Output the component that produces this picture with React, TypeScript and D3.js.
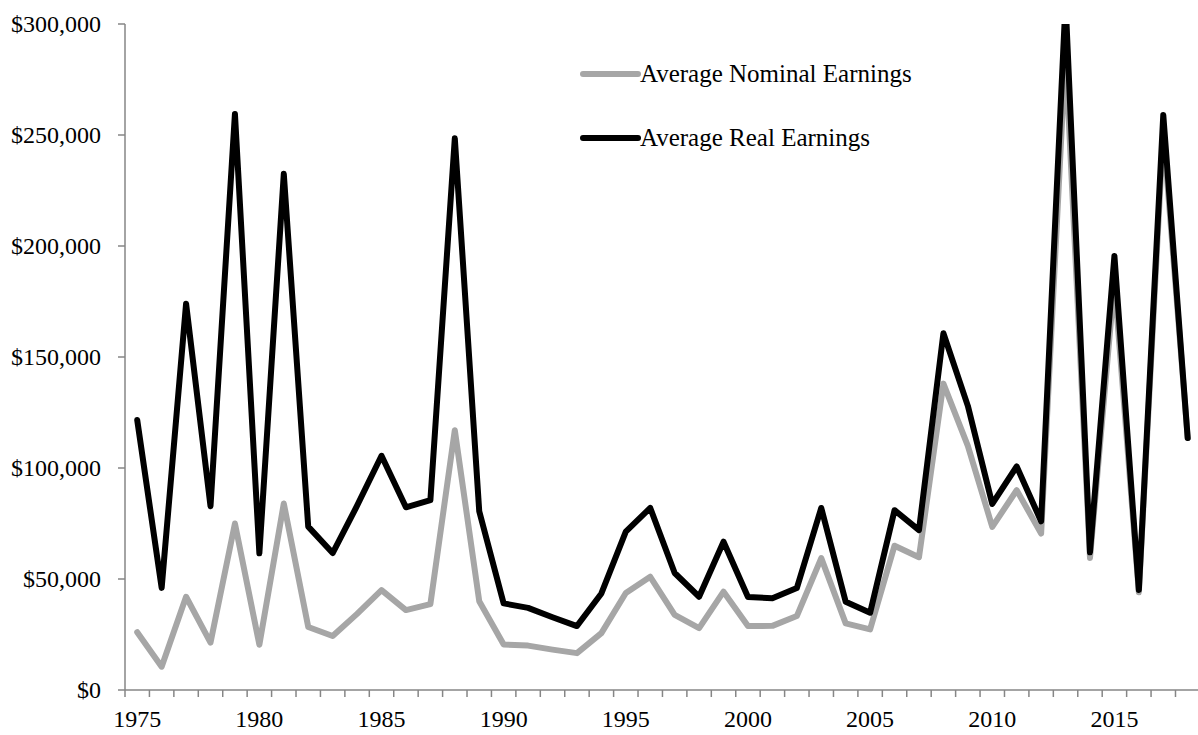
import { useMemo } from "react";
import * as d3 from "d3";

const years = d3.range(1975, 2019);

// average real earnings (2018 dollars)
const realEarnings = [
  121600, 46000, 174000, 82800, 259500, 61600, 232500, 73600, 61700, 83000,
  105500, 82300, 85500, 248500, 80500, 39000, 37000, 32800, 28800, 43500,
  71300, 82000, 52700, 42000, 66800, 41900, 41300, 45900, 82000, 39800,
  34800, 81000, 72000, 160700, 128000, 83800, 100700, 76000, 310000, 62000,
  195500, 45000, 259000, 113500,
];

// average nominal earnings
const nominalEarnings = [
  26000, 10500, 42000, 21300, 75000, 20400, 84000, 28400, 24300, 34300,
  45000, 36000, 38700, 117000, 40000, 20500, 20000, 18200, 16600, 25600,
  43700, 51000, 33800, 27900, 44300, 28800, 28900, 33300, 59400, 30000,
  27300, 65000, 59800, 138000, 110000, 73500, 90000, 70500, 287000, 59500,
  184000, 44000, 252000, 113500,
];

const yTicks = [0, 50000, 100000, 150000, 200000, 250000, 300000];
const yearLabels = [1975, 1980, 1985, 1990, 1995, 2000, 2005, 2010, 2015];

const series = [
  { name: "Average Nominal Earnings", values: nominalEarnings, color: "#a6a6a6" },
  { name: "Average Real Earnings", values: realEarnings, color: "#000000" },
];

const W = 1198;
const H = 735;
const FONT = "'Liberation Serif', 'Times New Roman', serif";

export default function App() {
  const left = 125;
  const top = 24;
  const bottom = 690;
  const band = 24.43;

  const x = useMemo(
    () => d3.scaleBand<number>().domain(years).range([left, left + band * years.length]),
    []
  );
  const y = useMemo(() => d3.scaleLinear().domain([0, 300000]).range([bottom, top]), []);
  const fmt = d3.format("$,.0f");

  const line = d3
    .line<number>()
    .x((_, i) => (x(years[i]) as number) + x.bandwidth() / 2)
    .y((d) => y(d));

  return (
    <svg
      width={W}
      height={H}
      style={{ position: "absolute", left: 0, top: 0, display: "block", background: "#fff" }}
      fontFamily={FONT}
    >
      <defs>
        <clipPath id="plot">
          <rect x={left} y={top} width={W - left} height={bottom - top + 10} />
        </clipPath>
      </defs>

      {/* y axis */}
      <line x1={left} x2={left} y1={y(300000)} y2={bottom} stroke="#868686" strokeWidth={1.5} />
      {yTicks.map((t) => (
        <g key={t}>
          <line x1={left - 7} x2={left} y1={y(t)} y2={y(t)} stroke="#868686" strokeWidth={1.5} />
          <text x={101} y={y(t)} dy="0.35em" textAnchor="end" fontSize={24} fill="#000">
            {fmt(t)}
          </text>
        </g>
      ))}

      {/* x axis */}
      <line x1={left} x2={W} y1={bottom} y2={bottom} stroke="#868686" strokeWidth={1.5} />
      {years.map((yr) => (
        <line
          key={yr}
          x1={x(yr) as number}
          x2={x(yr) as number}
          y1={bottom}
          y2={bottom + 7}
          stroke="#868686"
          strokeWidth={1.5}
        />
      ))}
      {yearLabels.map((yr) => (
        <text
          key={yr}
          x={(x(yr) as number) + x.bandwidth() / 2}
          y={727}
          textAnchor="middle"
          fontSize={24}
          fill="#000"
        >
          {yr}
        </text>
      ))}

      {/* lines */}
      <g clipPath="url(#plot)">
        {series.map((s) => (
          <path
            key={s.name}
            d={line(s.values) ?? ""}
            fill="none"
            stroke={s.color}
            strokeWidth={6}
            strokeLinejoin="round"
            strokeLinecap="round"
          />
        ))}
      </g>

      {/* legend */}
      {series.map((s, i) => (
        <g key={s.name} transform={`translate(583, ${74 + i * 64})`}>
          <line x1={0} x2={55} y1={0} y2={0} stroke={s.color} strokeWidth={6} strokeLinecap="round" />
          <text x={57} y={0} dy="0.33em" fontSize={25} fill="#000">
            {s.name}
          </text>
        </g>
      ))}
    </svg>
  );
}
